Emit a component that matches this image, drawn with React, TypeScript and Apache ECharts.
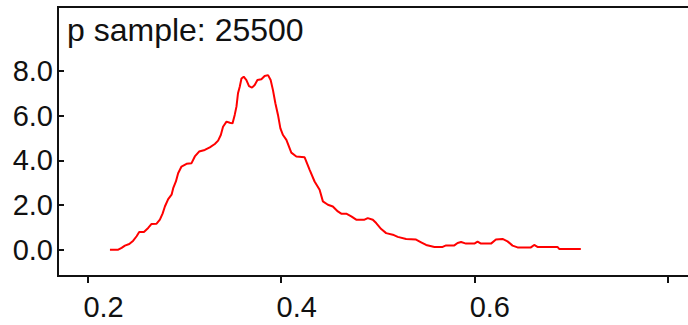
import React, { useEffect, useRef } from "react";
import * as echarts from "echarts";

const titleText = "p sample: 25500";
const xTicks = [0.2, 0.4, 0.6, 0.8];
const xLabels = [0.2, 0.4, 0.6];
const yTicks = [0, 2, 4, 6, 8];

const xs = [0.2227,0.2313,0.2348,0.2382,0.2427,0.2468,0.2503,0.2530,0.2579,0.2623,0.2658,0.2710,0.2744,0.2772,0.2796,0.2830,0.2865,0.2882,0.2910,0.2933,0.2968,0.3020,0.3072,0.3106,0.3150,0.3209,0.3261,0.3313,0.3347,0.3375,0.3398,0.3434,0.3468,0.3496,0.3519,0.3537,0.3553,0.3571,0.3589,0.3612,0.3640,0.3667,0.3698,0.3726,0.3754,0.3795,0.3829,0.3864,0.3891,0.3915,0.3940,0.3967,0.3992,0.4019,0.4054,0.4081,0.4105,0.4157,0.4243,0.4295,0.4346,0.4398,0.4432,0.4484,0.4535,0.4587,0.4622,0.4674,0.4726,0.4777,0.4863,0.4897,0.4949,0.4984,0.5036,0.5087,0.5156,0.5207,0.5294,0.5397,0.5449,0.5501,0.5587,0.5672,0.5708,0.5793,0.5827,0.5863,0.5914,0.6000,0.6034,0.6069,0.6173,0.6224,0.6292,0.6344,0.6396,0.6448,0.6586,0.6620,0.6654,0.6861,0.6879,0.7103];
const ys = [0,0,0.08,0.18,0.25,0.40,0.60,0.79,0.79,0.97,1.15,1.16,1.34,1.61,1.93,2.26,2.46,2.75,3.05,3.42,3.72,3.84,3.87,4.17,4.39,4.46,4.58,4.73,4.88,5.13,5.50,5.73,5.68,5.65,6.03,6.40,7.00,7.29,7.66,7.74,7.59,7.32,7.25,7.37,7.59,7.63,7.77,7.81,7.59,7.14,6.55,6.03,5.43,5.13,4.91,4.61,4.34,4.17,4.13,3.57,3.05,2.68,2.16,2.01,1.93,1.71,1.61,1.61,1.49,1.34,1.34,1.41,1.34,1.19,0.92,0.74,0.67,0.57,0.48,0.45,0.33,0.21,0.12,0.12,0.19,0.19,0.30,0.34,0.27,0.27,0.36,0.27,0.27,0.45,0.48,0.37,0.18,0.10,0.10,0.21,0.12,0.12,0.03,0.03];

export default function App() {
  const ref = useRef<HTMLDivElement>(null);
  useEffect(() => {
    if (!ref.current) return;
    const chart = echarts.init(ref.current, undefined, { renderer: "svg" });
    const font = "'Liberation Sans', Arial, Helvetica, sans-serif";
    chart.setOption({
      animation: false,
      backgroundColor: "#ffffff",
      title: {
        text: titleText,
        left: 62,
        top: 9,
        textStyle: { fontFamily: font, fontSize: 32, fontWeight: "normal", color: "#111" },
      },
      grid: {
        left: 58,
        top: 7,
        right: -20,
        bottom: 49,
        outerBoundsMode: "none",
        containLabel: false,
        show: true,
        borderColor: "#111",
        borderWidth: 2,
        backgroundColor: "transparent",
      },
      xAxis: {
        type: "value",
        min: 0.1689,
        max: 0.842,
        splitLine: { show: false },
        axisLine: { show: true, onZero: false, lineStyle: { color: "#111", width: 2 } },
        axisTick: { show: true, length: 7, inside: false, customValues: xTicks, lineStyle: { color: "#111", width: 2 } },
        axisLabel: {
          customValues: xLabels,
          margin: 16,
          align: "center",
          padding: [0, 0, 0, 31],
          fontFamily: font,
          fontSize: 29,
          color: "#111",
          formatter: (v: number) => v.toFixed(1),
        },
      },
      yAxis: {
        type: "value",
        min: -1.18,
        max: 10.86,
        splitLine: { show: false },
        axisLine: { show: true, onZero: false, lineStyle: { color: "#111", width: 2 } },
        axisTick: { show: true, length: 6, inside: true, customValues: yTicks, lineStyle: { color: "#111", width: 2 } },
        axisLabel: {
          customValues: yTicks,
          margin: 5,
          fontFamily: font,
          fontSize: 29,
          color: "#111",
          formatter: (v: number) => v.toFixed(1),
        },
      },
      series: [
        {
          type: "line",
          data: xs.map((x, i) => [x, ys[i]]),
          showSymbol: false,
          symbol: "none",
          lineStyle: { color: "#ff0000", width: 2 },
          itemStyle: { color: "#ff0000" },
        },
      ],
    });
    return () => chart.dispose();
  }, []);
  return (
    <div style={{ position: "fixed", left: 0, top: 0, width: 688, height: 325, background: "#fff" }}>
      <div ref={ref} style={{ width: 688, height: 325 }} />
    </div>
  );
}
